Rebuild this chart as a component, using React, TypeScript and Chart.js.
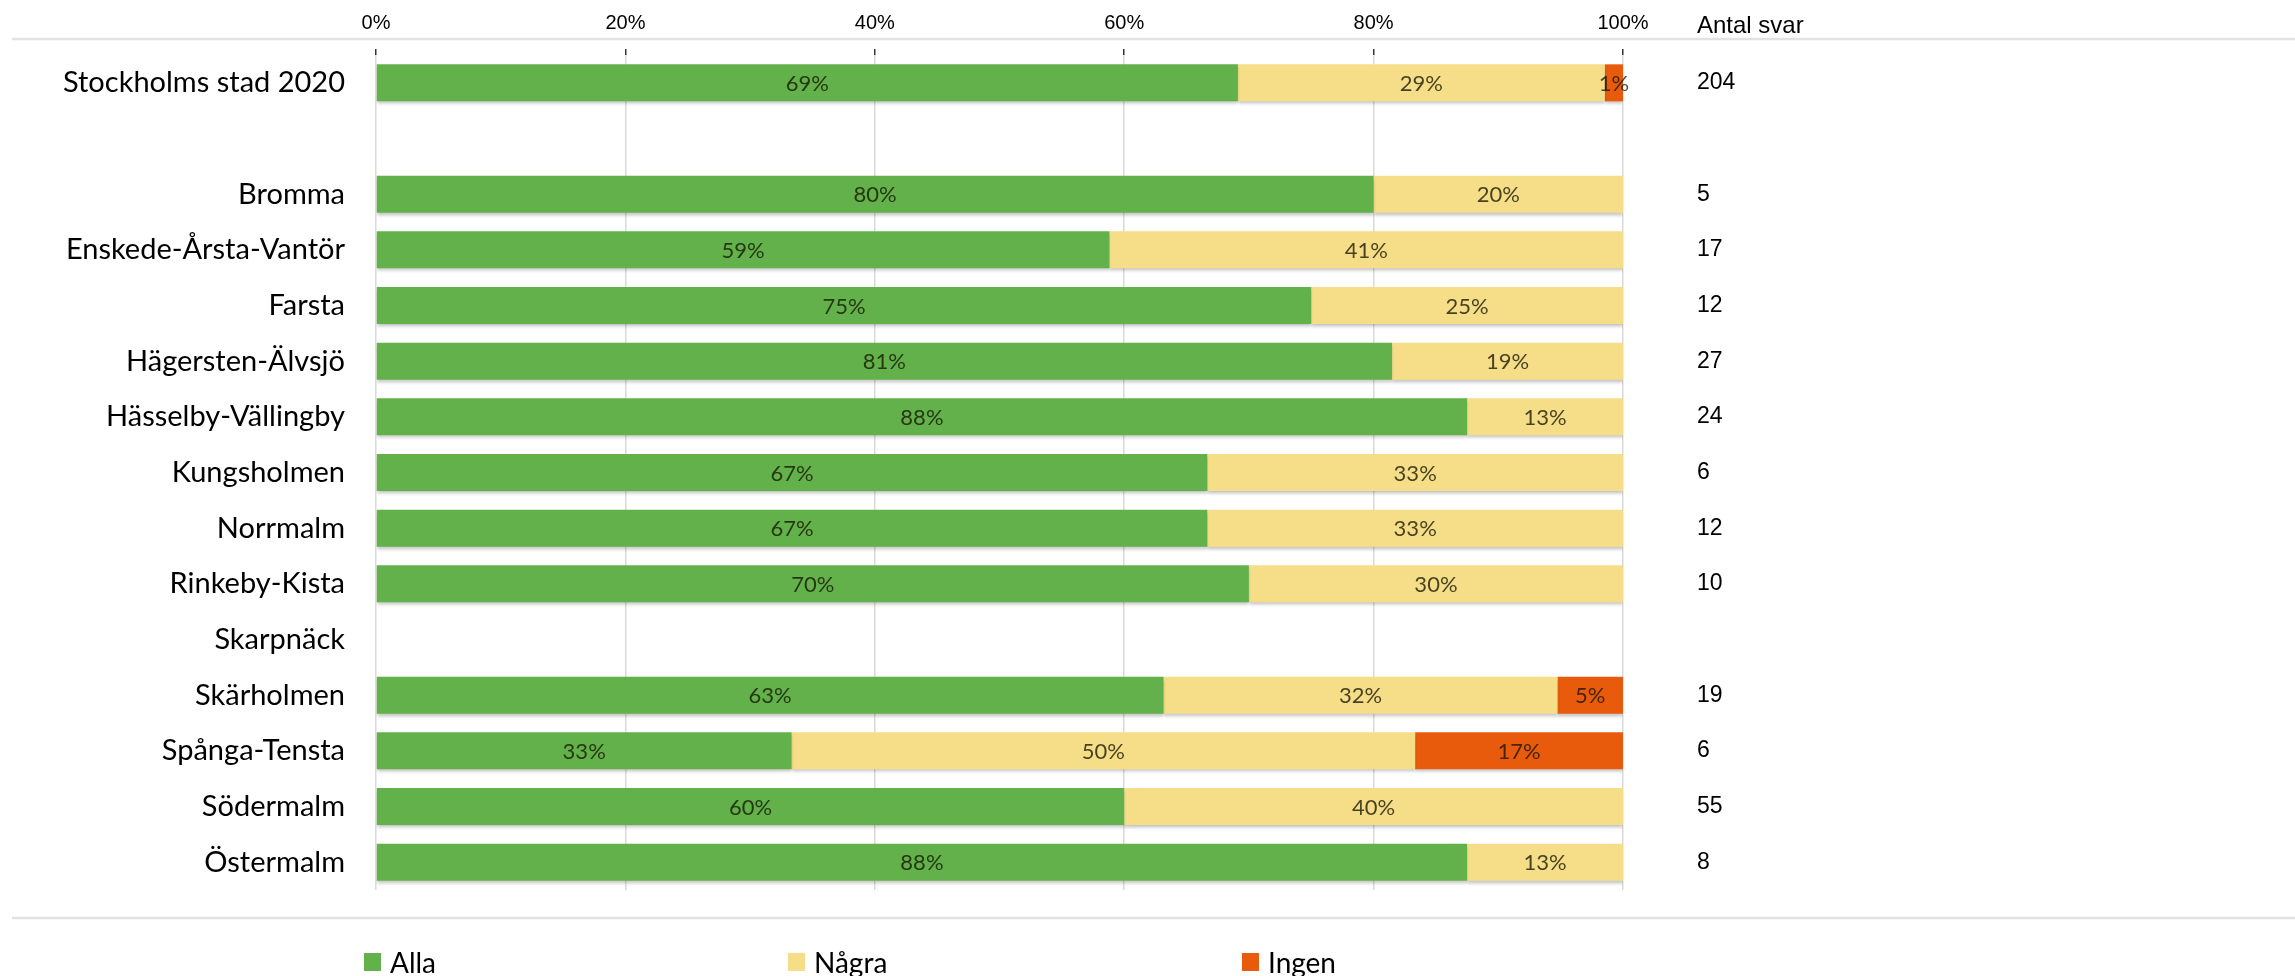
import React, { useEffect, useRef } from "react";
import { Chart, registerables } from "chart.js";

Chart.register(...registerables);

const categories = [
  "Stockholms stad 2020",
  "",
  "Bromma",
  "Enskede-Årsta-Vantör",
  "Farsta",
  "Hägersten-Älvsjö",
  "Hässelby-Vällingby",
  "Kungsholmen",
  "Norrmalm",
  "Rinkeby-Kista",
  "Skarpnäck",
  "Skärholmen",
  "Spånga-Tensta",
  "Södermalm",
  "Östermalm",
];

const alla = [69.12, null, 80, 58.82, 75, 81.48, 87.5, 66.67, 66.67, 70, null, 63.16, 33.33, 60, 87.5];
const nagra = [29.41, null, 20, 41.18, 25, 18.52, 12.5, 33.33, 33.33, 30, null, 31.58, 50, 40, 12.5];
const ingen = [1.47, null, 0, 0, 0, 0, 0, 0, 0, 0, null, 5.26, 16.67, 0, 0];
const antalSvar = ["204", "", "5", "17", "12", "27", "24", "6", "12", "10", "", "19", "6", "55", "8"];

const seriesNames = ["Alla", "Några", "Ingen"];
const seriesColors = ["#63b14a", "#f6de88", "#e85b0c"];
const xTicks = [0, 20, 40, 60, 80, 100];
const antalTitle = "Antal svar";

const W = 2295;
const H = 976;

const shadowPlugin = {
  id: "barShadow",
  beforeDatasetDraw(chart: any) {
    const ctx = chart.ctx;
    ctx.save();
    ctx.shadowColor = "rgba(0,0,0,0.22)";
    ctx.shadowBlur = 3;
    ctx.shadowOffsetY = 3;
  },
  afterDatasetDraw(chart: any) {
    chart.ctx.restore();
  },
};

const labelsPlugin = {
  id: "barLabels",
  afterDatasetsDraw(chart: any) {
    const ctx = chart.ctx;
    ctx.save();
    ctx.font = "22px Lato, 'Noto Sans', sans-serif";
    ctx.fillStyle = "rgba(20,20,0,0.78)";
    ctx.textAlign = "center";
    ctx.textBaseline = "middle";
    chart.data.datasets.forEach((ds: any, i: number) => {
      const meta = chart.getDatasetMeta(i);
      meta.data.forEach((bar: any, j: number) => {
        const v = ds.data[j];
        if (!v) return;
        const p = bar.getProps(["x", "y", "base"], true);
        ctx.fillText(Math.round(v) + "%", (p.x + p.base) / 2, p.y + 1);
      });
    });
    ctx.restore();
  },
};

const framePlugin = {
  id: "frame",
  beforeDraw(chart: any) {
    const ctx = chart.ctx;
    ctx.save();
    ctx.strokeStyle = "#e2e2de";
    ctx.lineWidth = 2.5;
    ctx.beginPath();
    ctx.moveTo(12, 39);
    ctx.lineTo(W, 39);
    ctx.moveTo(12, 918);
    ctx.lineTo(W, 918);
    ctx.stroke();
    ctx.restore();
  },
  afterDraw(chart: any) {
    const ctx = chart.ctx;
    const y2 = chart.scales.y2;
    ctx.save();
    ctx.font = "24px 'Liberation Sans', Arial, sans-serif";
    ctx.fillStyle = "#000";
    ctx.textAlign = "left";
    ctx.textBaseline = "middle";
    ctx.fillText(antalTitle, y2.left + 74, 26);
    ctx.restore();
  },
};

const noPad = (scale: any) => {
  scale.paddingTop = 0;
  scale.paddingBottom = 0;
  scale.paddingLeft = 0;
  scale.paddingRight = 0;
};

export default function App() {
  const ref = useRef<HTMLCanvasElement | null>(null);

  useEffect(() => {
    if (!ref.current) return;
    const chart = new Chart(ref.current, {
      type: "bar",
      data: {
        labels: categories,
        datasets: [alla, nagra, ingen].map((d, i) => ({
          label: seriesNames[i],
          data: d,
          backgroundColor: seriesColors[i],
          borderWidth: 0,
          categoryPercentage: 1,
          barPercentage: 0.665,
        })),
      },
      options: {
        indexAxis: "y",
        responsive: false,
        animation: false,
        devicePixelRatio: 1,
        layout: { padding: { top: 0, left: 0, right: 0, bottom: 86 } },
        plugins: {
          legend: { display: false },
          tooltip: { enabled: false },
        },
        scales: {
          x: {
            type: "linear",
            position: "top",
            stacked: true,
            min: 0,
            max: 100,
            afterBuildTicks: (scale: any) => {
              scale.ticks = xTicks.map((v) => ({ value: v }));
            },
            afterFit: (scale: any) => {
              scale.height = 55;
              noPad(scale);
            },
            ticks: {
              padding: 14,
              color: "#000",
              font: { family: "'Liberation Sans', Arial, sans-serif", size: 20 },
              callback: (v: any) => v + "%",
            },
            grid: {
              color: "rgba(0,0,0,0.15)",
              lineWidth: 1.5,
              tickColor: "#333",
              tickLength: 6,
              drawTicks: true,
            },
            border: { display: false },
          },
          y: {
            type: "category",
            position: "left",
            stacked: true,
            offset: true,
            afterFit: (scale: any) => {
              scale.width = 376;
              noPad(scale);
            },
            ticks: {
              autoSkip: false,
              padding: 31,
              color: "#000",
              font: { family: "Lato, 'Noto Sans', sans-serif", size: 29 },
            },
            grid: { display: false, drawTicks: false },
            border: { display: false },
          },
          y2: {
            type: "category",
            position: "right",
            labels: antalSvar,
            offset: true,
            afterFit: (scale: any) => {
              scale.width = W - 1623;
              noPad(scale);
            },
            ticks: {
              autoSkip: false,
              padding: 74,
              color: "#000",
              font: { family: "'Liberation Sans', Arial, sans-serif", size: 23 },
            },
            grid: { display: false, drawTicks: false },
            border: { display: false },
          },
        },
      },
      plugins: [framePlugin, shadowPlugin, labelsPlugin],
    } as any);
    return () => chart.destroy();
  }, []);

  const legendLeft = [364, 788, 1242];

  return (
    <div
      style={{
        position: "fixed",
        left: 0,
        top: 0,
        width: W,
        height: H,
        background: "#fff",
        overflow: "hidden",
      }}
    >
      <canvas ref={ref} width={W} height={H} style={{ width: W, height: H, display: "block" }} />
      {seriesNames.map((name, i) => (
        <div
          key={name}
          style={{
            position: "absolute",
            left: legendLeft[i],
            top: 943,
            height: 38,
            display: "flex",
            alignItems: "center",
            fontFamily: "Lato, 'Noto Sans', sans-serif",
            fontSize: 28,
            color: "#000",
            whiteSpace: "nowrap",
          }}
        >
          <span
            style={{
              display: "inline-block",
              width: 17,
              height: 18,
              background: seriesColors[i],
              marginRight: 9,
            }}
          />
          <span>{name}</span>
        </div>
      ))}
    </div>
  );
}
